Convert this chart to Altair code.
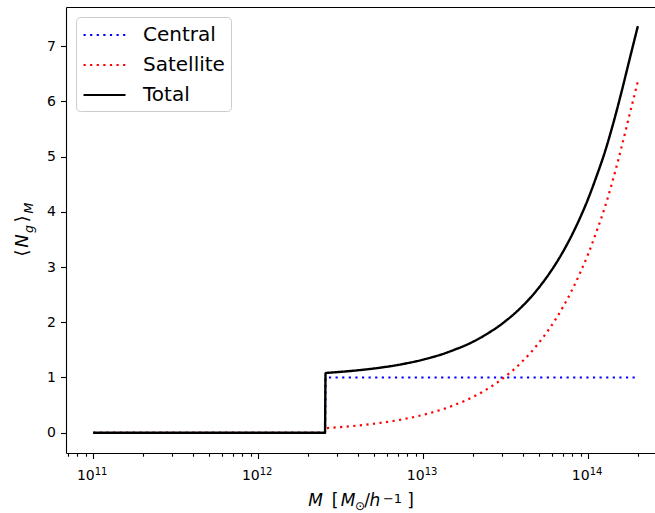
import altair as alt
import pandas as pd

# Halo mass samples [M_sun / h]
mass = [1.0e11, 2.54e12, 2.56e12, 2.82e12, 3.16e12, 3.55e12, 3.98e12, 4.47e12,
        5.01e12, 5.62e12, 6.31e12, 7.08e12, 7.94e12, 8.91e12, 1.0e13, 1.12e13,
        1.26e13, 1.41e13, 1.58e13, 1.78e13, 2.0e13, 2.24e13, 2.51e13, 2.82e13,
        3.16e13, 3.55e13, 3.98e13, 4.47e13, 5.01e13, 5.62e13, 6.31e13, 7.08e13,
        7.94e13, 8.91e13, 1.0e14, 1.12e14, 1.26e14, 1.41e14, 1.58e14, 1.78e14,
        2.0e14]

# Mean occupation of central galaxies (step at the minimum halo mass)
central = [0, 0, 1, 1, 1, 1, 1, 1,
           1, 1, 1, 1, 1, 1, 1, 1,
           1, 1, 1, 1, 1, 1, 1, 1,
           1, 1, 1, 1, 1, 1, 1, 1,
           1, 1, 1, 1, 1, 1, 1, 1,
           1]

# Mean occupation of satellite galaxies
satellite = [0, 0, 0.080, 0.091, 0.102, 0.115, 0.129, 0.145,
             0.162, 0.182, 0.204, 0.229, 0.257, 0.288, 0.324, 0.363,
             0.407, 0.457, 0.513, 0.575, 0.646, 0.724, 0.813, 0.912,
             1.023, 1.148, 1.288, 1.445, 1.622, 1.820, 2.042, 2.291,
             2.570, 2.884, 3.236, 3.631, 4.074, 4.571, 5.129, 5.754,
             6.36]

# Total occupation is centrals plus satellites
total = [c + s for c, s in zip(central, satellite)]

series_names = ["Central", "Satellite", "Total"]
series_colors = ["#0000ff", "#ff0000", "#000000"]
series_dashes = [[2.2, 4.4], [2.2, 4.4], [1, 0]]

x_ticks = [1e11, 1e12, 1e13, 1e14]
y_ticks = [0, 1, 2, 3, 4, 5, 6, 7]

df = pd.concat(
    [pd.DataFrame({"mass": mass, "n": vals, "series": name})
     for name, vals in zip(series_names, [central, satellite, total])],
    ignore_index=True,
)

W, H = 589, 446
FONT = "DejaVu Sans"
x_lo, x_hi = 10 ** 10.835, 10 ** 14.405

x_scale = alt.Scale(type="log", domain=[x_lo, x_hi])
y_scale = alt.Scale(domain=[-0.367, 7.707], nice=False, zero=False)
color_scale = alt.Scale(domain=series_names, range=series_colors)
dash_scale = alt.Scale(domain=series_names, range=series_dashes)

minor_ticks = [k * 10 ** e for e in range(10, 15) for k in range(2, 10)
               if x_lo <= k * 10 ** e <= x_hi]

axis_common = dict(grid=False, title=None, tickColor="black", domainColor="black",
                   tickWidth=1.1, domainWidth=1.1, labelColor="black",
                   labelFont=FONT)

# decade ticks: base "10" left of the tick, exponent drawn by a second axis
x_major = alt.Axis(orient="bottom", values=x_ticks, labelExpr="'10'",
                   labelAlign="right", labelOffset=1, labelBaseline="alphabetic",
                   labelFontSize=14, tickSize=5.5, labelPadding=20.5,
                   labelFlush=False, labelOverlap=False, **axis_common)
x_expo = alt.Axis(orient="bottom", values=x_ticks,
                  labelExpr="'' + round(log(datum.value) / LN10)",
                  labelAlign="left", labelOffset=1, labelBaseline="alphabetic",
                  labelFontSize=10, ticks=False, domain=False, labelPadding=21,
                  labelFlush=False, labelOverlap=False, **axis_common)
x_minor = alt.Axis(orient="bottom", values=minor_ticks, tickSize=3.2, labels=False,
                   domain=False, **axis_common)
x_top = alt.Axis(orient="top", ticks=False, labels=False, domain=True, **axis_common)
y_axis = alt.Axis(orient="left", values=y_ticks, tickSize=5.5, labelPadding=5,
                  labelFontSize=14, **axis_common)

legend = alt.Legend(title=None, orient="none", legendX=10, legendY=10,
                    symbolType="M-1,0H3", symbolSize=441, symbolStrokeWidth=2.2,
                    labelFont=FONT, labelFontSize=20, labelColor="black",
                    labelOffset=37, padding=6, rowPadding=8,
                    strokeColor="#cccccc", fillColor="white", cornerRadius=4)


def series_layer(name, width, x_axis, opacity=1):
    return (
        alt.Chart(df)
        .transform_filter(alt.datum.series == name)
        .mark_line(strokeWidth=width, interpolate="monotone", opacity=opacity)
        .encode(
            x=alt.X("mass:Q", scale=x_scale, axis=x_axis),
            y=alt.Y("n:Q", scale=y_scale, axis=y_axis),
            color=alt.Color("series:N", scale=color_scale, legend=legend),
            strokeDash=alt.StrokeDash("series:N", scale=dash_scale, legend=legend),
        )
    )


def glyph(text, x, y, size, italic=False, angle=0):
    return (
        alt.Chart(alt.Data(values=[{}]))
        .mark_text(text=text, font=FONT, fontSize=size,
                   fontStyle="italic" if italic else "normal",
                   angle=angle, align="center", baseline="alphabetic", color="black")
        .encode(x=alt.value(x), y=alt.value(y))
    )


# y-axis title: <N_g>_M, read bottom to top
y_title = [
    glyph("⟨", -38, 246, 18, angle=270),
    glyph("N", -38, 234, 18, italic=True, angle=270),
    glyph("g", -33, 222, 12.5, italic=True, angle=270),
    glyph("⟩", -38, 212, 18, angle=270),
    glyph("M", -33, 201, 12.5, italic=True, angle=270),
]

# x-axis title: M [M_sun / h^-1]
x_title = [
    glyph("M", 249.5, 499, 17, italic=True),
    glyph("[", 269, 499, 17),
    glyph("M", 282, 499, 17, italic=True),
    glyph("⊙", 294, 502.5, 12),
    glyph("/", 301, 499, 17),
    glyph("h", 309, 499, 17, italic=True),
    glyph("−1", 326.5, 496, 13),
    glyph("]", 344.5, 499, 17),
]

chart = (
    alt.layer(
        series_layer("Central", 2.2, x_major),
        series_layer("Satellite", 2.2, x_minor),
        series_layer("Total", 2.4, x_top),
        series_layer("Total", 2.4, x_expo, opacity=0),
        *y_title,
        *x_title,
    )
    .resolve_axis(x="independent")
    .properties(
        width=W, height=H,
        autosize=alt.AutoSizeParams(type="none"),
        padding={"left": 66, "top": 7, "right": 0, "bottom": 60},
        background="white",
    )
    .configure_view(stroke=None)
)

chart.save("out.html", embed_options={"renderer": "svg", "actions": False})
